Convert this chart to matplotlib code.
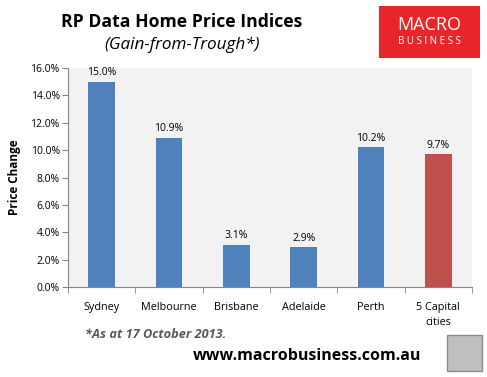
import numpy as np
import matplotlib
matplotlib.use('Agg')
import matplotlib.pyplot as plt
from matplotlib.patches import Rectangle

# data
cities = ['Sydney', 'Melbourne', 'Brisbane', 'Adelaide', 'Perth', '5 Capital\ncities']
gains = [15.0, 10.9, 3.1, 2.9, 10.2, 9.7]
colors = ['#4F81BD'] * 5 + ['#C0504D']
yticks = [0, 2, 4, 6, 8, 10, 12, 14, 16]

plt.rcParams['font.family'] = ['Open Sans', 'DejaVu Sans']

fig = plt.figure(figsize=(4.87, 3.77), dpi=100)
ax = fig.add_axes([68/487, 1-287/377, (472-68)/487, (287-68)/377])
ax.set_facecolor('#F2F2F2')

x = np.arange(len(cities))
ax.bar(x, gains, width=0.4, color=colors, zorder=2)
for xi, g in zip(x, gains):
    ax.text(xi, g + 0.25, '%.1f%%' % g, ha='center', va='bottom', fontsize=7.5)

ax.set_xlim(-0.5, len(cities) - 0.5)
ax.set_ylim(0, 16)
ax.set_yticks(yticks)
ax.set_yticklabels(['%.1f%%' % v for v in yticks], fontsize=7.5)
ax.set_xticks(x)
ax.set_xticklabels(cities, fontsize=7.8, linespacing=1.5)
ax.set_xticks(np.arange(len(cities) + 1) - 0.5, minor=True)
ax.tick_params(axis='x', which='major', length=0, pad=11)
ax.tick_params(axis='x', which='minor', length=4, color='#868686')
ax.tick_params(axis='y', length=4, color='#868686', pad=2)
for s in ['top', 'right']:
    ax.spines[s].set_visible(False)
ax.spines['left'].set_color('#868686')
ax.spines['bottom'].set_color('#868686')
ax.set_ylabel('Price Change', fontsize=8.5, fontweight='bold', labelpad=7)

# titles
fig.text(182/487, 1-22/377, 'RP Data Home Price Indices', ha='center', va='center',
         fontsize=12.7, fontweight='bold')
fig.text(182/487, 1-45/377, '(Gain-from-Trough*)', ha='center', va='center',
         fontsize=12.3, style='italic')

# logo box
fig.patches.append(Rectangle((379/487, 1-58/377), 101/487, 52/377, transform=fig.transFigure,
                             facecolor='#E8262A', edgecolor='none'))
fig.text(429/487, 1-25/377, 'MACRO', ha='center', va='center', color='white', fontsize=13)
fig.text(429/487, 1-42/377, 'B U S I N E S S', ha='center', va='center', color='white', fontsize=7)

# footer
fig.text(85/487, 1-335/377, '*As at 17 October 2013.', ha='left', va='center',
         fontsize=9.2, fontweight='bold', style='italic', color='#595959')
fig.text(193/487, 1-356/377, 'www.macrobusiness.com.au', ha='left', va='center',
         fontsize=11.5, fontweight='bold')
fig.patches.append(Rectangle((447/487, 1-371/377), 35/487, 36/377, transform=fig.transFigure,
                             facecolor='#BFBFBF', edgecolor='#8C8C8C', linewidth=1))

fig.savefig('out.png', dpi=100)
